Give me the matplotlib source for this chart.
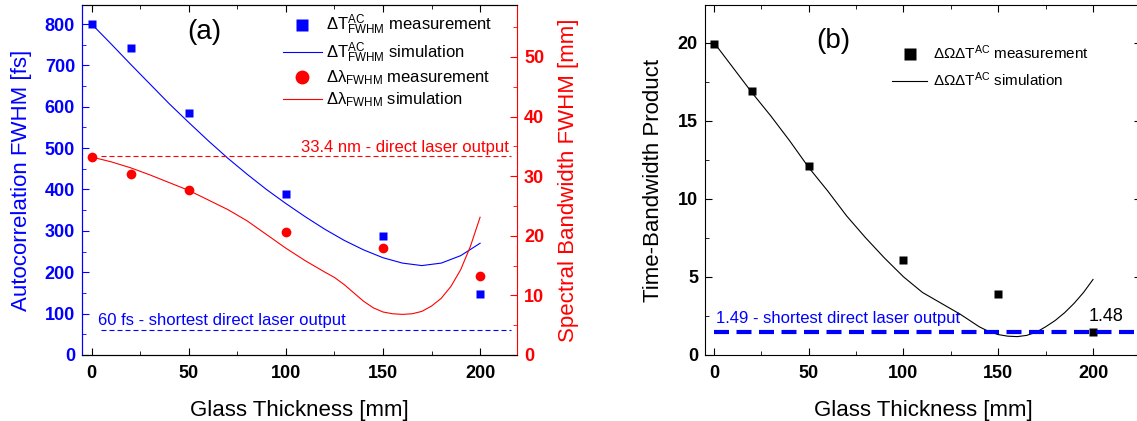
import matplotlib
matplotlib.use('Agg')
import matplotlib.pyplot as plt
from matplotlib.lines import Line2D
from matplotlib.ticker import MultipleLocator

plt.rcParams['font.family'] = ['Liberation Sans', 'DejaVu Sans']
plt.rcParams['mathtext.fontset'] = 'custom'
plt.rcParams['mathtext.rm'] = 'Liberation Sans'
plt.rcParams['mathtext.default'] = 'regular'

# ---- data (a) ----
thick = [0, 20, 50, 100, 150, 200]
ac_meas = [800, 742, 585, 390, 288, 147]          # fs
bw_meas = [33.2, 30.4, 27.6, 20.7, 18.0, 13.3]    # nm

ac_sim_x = [0, 10, 20, 30, 40, 50, 60, 70, 80, 90, 100, 110, 120, 130, 140,
            150, 160, 170, 180, 190, 200]
ac_sim_y = [800, 752, 703, 655, 607, 562, 518, 476, 437, 400, 366, 334, 304,
            277, 254, 235, 222, 216, 222, 240, 270]

bw_sim_x = [0, 10, 20, 30, 40, 50, 60, 70, 80, 90, 100, 110, 120, 125, 130,
            135, 140, 145, 150, 155, 160, 165, 170, 175, 180, 185, 190, 195, 200]
bw_sim_y = [33.2, 32.4, 31.4, 30.2, 28.9, 27.6, 26.0, 24.4, 22.5, 20.2, 17.9,
            15.8, 13.9, 13.0, 11.8, 10.4, 9.0, 7.9, 7.2, 6.9, 6.8, 6.9, 7.3,
            8.2, 9.5, 11.5, 14.3, 18.2, 23.1]

laser_bw = 33.4
laser_ac = 60

# ---- data (b) ----
tbp_meas = [19.9, 16.9, 12.1, 6.1, 3.9, 1.48]
tbp_sim_x = [0, 10, 20, 30, 40, 50, 60, 70, 80, 90, 100, 110, 120, 130, 140,
             145, 150, 155, 160, 165, 170, 175, 180, 185, 190, 195, 200]
tbp_sim_y = [20.0, 18.4, 16.8, 15.3, 13.7, 12.0, 10.5, 8.9, 7.5, 6.2, 5.0, 4.0,
             3.3, 2.6, 1.8, 1.5, 1.3, 1.2, 1.17, 1.25, 1.45, 1.8, 2.2, 2.7,
             3.3, 4.0, 4.83]
laser_tbp = 1.49

BLUE = '#0000ff'
RED = '#ff0000'
TICK_FS = 13
LABEL_FS = 16

fig = plt.figure(figsize=(11.37, 4.21), dpi=100)
ax = fig.add_axes([0.0721, 0.157, 0.3826, 0.831])
ax2 = ax.twinx()

# panel (a)
ax.plot(ac_sim_x, ac_sim_y, color=BLUE, lw=0.8)
ax.plot(thick, ac_meas, 's', color=BLUE, ms=6, mec='none')
ax.plot([5, 216], [laser_ac, laser_ac], '--', color=BLUE, lw=0.8, dashes=(4.5, 2.7))
ax.text(3, laser_ac + 6, '60 fs - shortest direct laser output', color=BLUE,
        fontsize=12, va='bottom')
ax.text(58, 780, '(a)', fontsize=20, ha='center', va='center')

ax2.plot(bw_sim_x, bw_sim_y, color=RED, lw=0.8)
ax2.plot(thick, bw_meas, 'o', color=RED, ms=7, mec='none')
ax2.plot([5, 216], [laser_bw, laser_bw], '--', color=RED, lw=0.8, dashes=(4.5, 2.7))
ax2.text(215, laser_bw + 0.2, '33.4 nm - direct laser output', color=RED,
         fontsize=12, ha='right', va='bottom')

ax.set_xlim(-5, 219)
ax.set_ylim(0, 846)
ax2.set_ylim(0, 58.7)
ax.xaxis.set_major_locator(MultipleLocator(50))
ax.xaxis.set_minor_locator(MultipleLocator(25))
ax.yaxis.set_major_locator(MultipleLocator(100))
ax.yaxis.set_minor_locator(MultipleLocator(50))
ax2.yaxis.set_major_locator(MultipleLocator(10))
ax2.yaxis.set_minor_locator(MultipleLocator(5))

ax.tick_params(axis='x', which='both', direction='in', top=True,
               labelsize=TICK_FS, pad=7)
ax.tick_params(axis='y', which='both', direction='in', colors=BLUE,
               labelsize=TICK_FS, pad=5)
ax.tick_params(which='major', length=5)
ax.tick_params(which='minor', length=3)
ax2.tick_params(axis='y', which='both', direction='in', colors=RED,
                labelsize=TICK_FS, pad=5)
ax2.tick_params(which='major', length=5)
ax2.tick_params(which='minor', length=3)
for lab in ax.get_xticklabels() + ax.get_yticklabels() + ax2.get_yticklabels():
    lab.set_fontweight('bold')
ax.spines['left'].set_color(BLUE)
ax2.spines['left'].set_color(BLUE)
ax2.spines['right'].set_color(RED)
ax.spines['right'].set_visible(False)

ax.set_xlabel('Glass Thickness [mm]', fontsize=LABEL_FS, labelpad=13)
ax.set_ylabel('Autocorrelation FWHM [fs]', fontsize=LABEL_FS, color=BLUE, labelpad=9)
ax2.set_ylabel('Spectral Bandwidth FWHM [mm]', fontsize=LABEL_FS, color=RED, labelpad=10)

handles_a = [
    Line2D([], [], marker='s', ls='none', color=BLUE, ms=9, mec='none'),
    Line2D([], [], color=BLUE, lw=0.8),
    Line2D([], [], marker='o', ls='none', color=RED, ms=10, mec='none'),
    Line2D([], [], color=RED, lw=0.8),
]
labels_a = [r'$\Delta T^{AC}_{FWHM}$ measurement',
            r'$\Delta T^{AC}_{FWHM}$ simulation',
            r'$\Delta\lambda_{FWHM}$ measurement',
            r'$\Delta\lambda_{FWHM}$ simulation']
ax2.legend(handles_a, labels_a, loc='upper right', bbox_to_anchor=(0.977, 1.02),
           frameon=False, fontsize=12, handlelength=2.3, labelspacing=0.2,
           handletextpad=0.25)

# panel (b)
bx = fig.add_axes([0.620, 0.157, 0.3835, 0.831])
bx.plot(tbp_sim_x, tbp_sim_y, color='black', lw=0.8)
bx.plot(thick, tbp_meas, 's', color='black', ms=6, mec='none')
bx.plot([0, 226], [laser_tbp, laser_tbp], '--', color=BLUE, lw=3, dashes=(3.6, 1.8))
bx.text(1, laser_tbp + 0.35, '1.49 - shortest direct laser output', color=BLUE,
        fontsize=12, va='bottom')
bx.text(207, 2.45, '1.48', color='black', fontsize=13, ha='center', va='center')
bx.text(63, 20.1, '(b)', fontsize=20, ha='center', va='center')

bx.set_xlim(-4.75, 225.3)
bx.set_ylim(0, 22.4)
bx.xaxis.set_major_locator(MultipleLocator(50))
bx.xaxis.set_minor_locator(MultipleLocator(25))
bx.yaxis.set_major_locator(MultipleLocator(5))
bx.yaxis.set_minor_locator(MultipleLocator(2.5))
bx.tick_params(which='both', direction='in', top=True, right=True, labelsize=TICK_FS)
bx.tick_params(axis='x', pad=7)
bx.tick_params(axis='y', pad=5)
bx.tick_params(which='major', length=5)
bx.tick_params(which='minor', length=3)
for lab in bx.get_xticklabels() + bx.get_yticklabels():
    lab.set_fontweight('bold')
bx.set_xlabel('Glass Thickness [mm]', fontsize=LABEL_FS, labelpad=13)
bx.set_ylabel('Time-Bandwidth Product', fontsize=LABEL_FS, labelpad=10)

handles_b = [
    Line2D([], [], marker='s', ls='none', color='black', ms=9, mec='none'),
    Line2D([], [], color='black', lw=0.8),
]
labels_b = [r'$\Delta\Omega\Delta T^{AC}$ measurement',
            r'$\Delta\Omega\Delta T^{AC}$ simulation']
bx.legend(handles_b, labels_b, loc='upper right', bbox_to_anchor=(0.911, 0.93),
          frameon=False, fontsize=11, handlelength=2.3, labelspacing=0.55,
          handletextpad=0.35)

fig.savefig('out.png', dpi=100)
